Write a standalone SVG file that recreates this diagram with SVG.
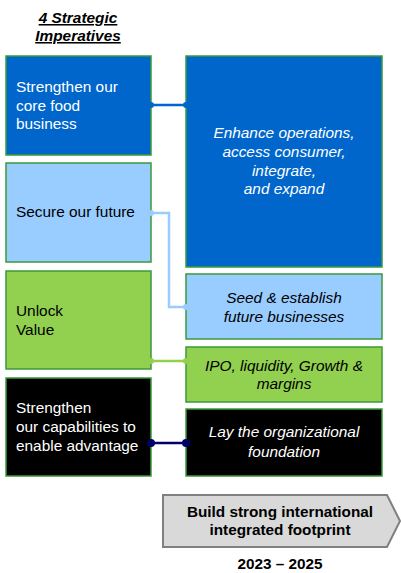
<svg xmlns="http://www.w3.org/2000/svg" width="401" height="573" viewBox="0 0 401 573">
  <style>
    text { font-family: "Liberation Sans", Arial, sans-serif; font-size: 15.4px; }
    .box { stroke: #3A9A3A; stroke-width: 1.5; }
    .lbl { fill: #FFFFFF; }
    .lbl-dark { fill: #000000; }
    .it { font-style: italic; text-anchor: middle; }
    .title { font-weight: bold; font-style: italic; text-decoration: underline; text-anchor: middle; font-size: 15.4px; }
    .bold { font-weight: bold; text-anchor: middle; font-size: 15.3px; fill: #000000; }
    .conn { fill: none; stroke-width: 2.5; }
  </style>

  <rect width="401" height="573" fill="#FFFFFF"/>

  <g id="title">
    <text class="title" x="78" y="23">4 Strategic</text>
    <text class="title" x="78" y="41">Imperatives</text>
  </g>

  <!-- left column: imperatives -->
  <g id="imp-core">
    <rect class="box" x="6" y="56" width="145" height="99" fill="#0066CC"/>
    <text class="lbl" x="16" y="92">Strengthen our</text>
    <text class="lbl" x="16" y="111">core food</text>
    <text class="lbl" x="16" y="129">business</text>
  </g>
  <g id="imp-future">
    <rect class="box" x="6" y="163" width="145" height="99" fill="#99CCFF"/>
    <text class="lbl-dark" x="16" y="217">Secure our future</text>
  </g>
  <g id="imp-value">
    <rect class="box" x="6" y="271" width="145" height="98" fill="#92D050"/>
    <text class="lbl-dark" x="16" y="316">Unlock</text>
    <text class="lbl-dark" x="16" y="335">Value</text>
  </g>
  <g id="imp-capabilities">
    <rect class="box" x="6" y="378" width="145" height="98" fill="#000000"/>
    <text class="lbl" x="16" y="413">Strengthen</text>
    <text class="lbl" x="16" y="432">our capabilities to</text>
    <text class="lbl" x="16" y="451">enable advantage</text>
  </g>

  <!-- right column: actions -->
  <g id="act-enhance">
    <rect class="box" x="186" y="56" width="196" height="211" fill="#0066CC"/>
    <text class="lbl it" x="284" y="138">Enhance operations,</text>
    <text class="lbl it" x="284" y="157">access consumer,</text>
    <text class="lbl it" x="284" y="176">integrate,</text>
    <text class="lbl it" x="284" y="194">and expand</text>
  </g>
  <g id="act-seed">
    <rect class="box" x="186" y="274" width="196" height="65" fill="#99CCFF"/>
    <text class="lbl-dark it" x="284" y="303">Seed &amp; establish</text>
    <text class="lbl-dark it" x="284" y="322">future businesses</text>
  </g>
  <g id="act-ipo">
    <rect class="box" x="186" y="347" width="196" height="55" fill="#92D050"/>
    <text class="lbl-dark it" x="284" y="371">IPO, liquidity, Growth &amp;</text>
    <text class="lbl-dark it" x="284" y="389">margins</text>
  </g>
  <g id="act-foundation">
    <rect class="box" x="186" y="409" width="196" height="67" fill="#000000"/>
    <text class="lbl it" x="284" y="437">Lay the organizational</text>
    <text class="lbl it" x="284" y="457">foundation</text>
  </g>

  <!-- connectors between the columns -->
  <g id="connectors">
    <path class="conn" stroke="#0066CC" d="M151 105 H186"/>
    <circle cx="151" cy="105" r="3" fill="#0066CC"/>
    <circle cx="186" cy="105" r="3" fill="#0066CC"/>

    <path class="conn" stroke="#99CCFF" d="M151 213 H169 V307 H186"/>
    <circle cx="151" cy="213" r="3" fill="#99CCFF"/>
    <circle cx="186" cy="307" r="3" fill="#99CCFF"/>

    <path class="conn" stroke="#92D050" d="M151 361 H186"/>
    <circle cx="151" cy="361" r="3" fill="#92D050"/>
    <circle cx="186" cy="361" r="3" fill="#92D050"/>

    <path class="conn" stroke="#000066" d="M151 443 H186"/>
    <circle cx="151" cy="443" r="4" fill="#000066"/>
    <circle cx="186" cy="443" r="4" fill="#000066"/>
  </g>

  <g id="footprint">
    <polygon points="163,495 387,495 400,521 387,547 163,547" fill="#D9D9D9" stroke="#808080" stroke-width="2"/>
    <text class="bold" x="280" y="517">Build strong international</text>
    <text class="bold" x="280" y="535">integrated footprint</text>
  </g>
  <g id="period">
    <text class="bold" x="280" y="569">2023 – 2025</text>
  </g>
</svg>
